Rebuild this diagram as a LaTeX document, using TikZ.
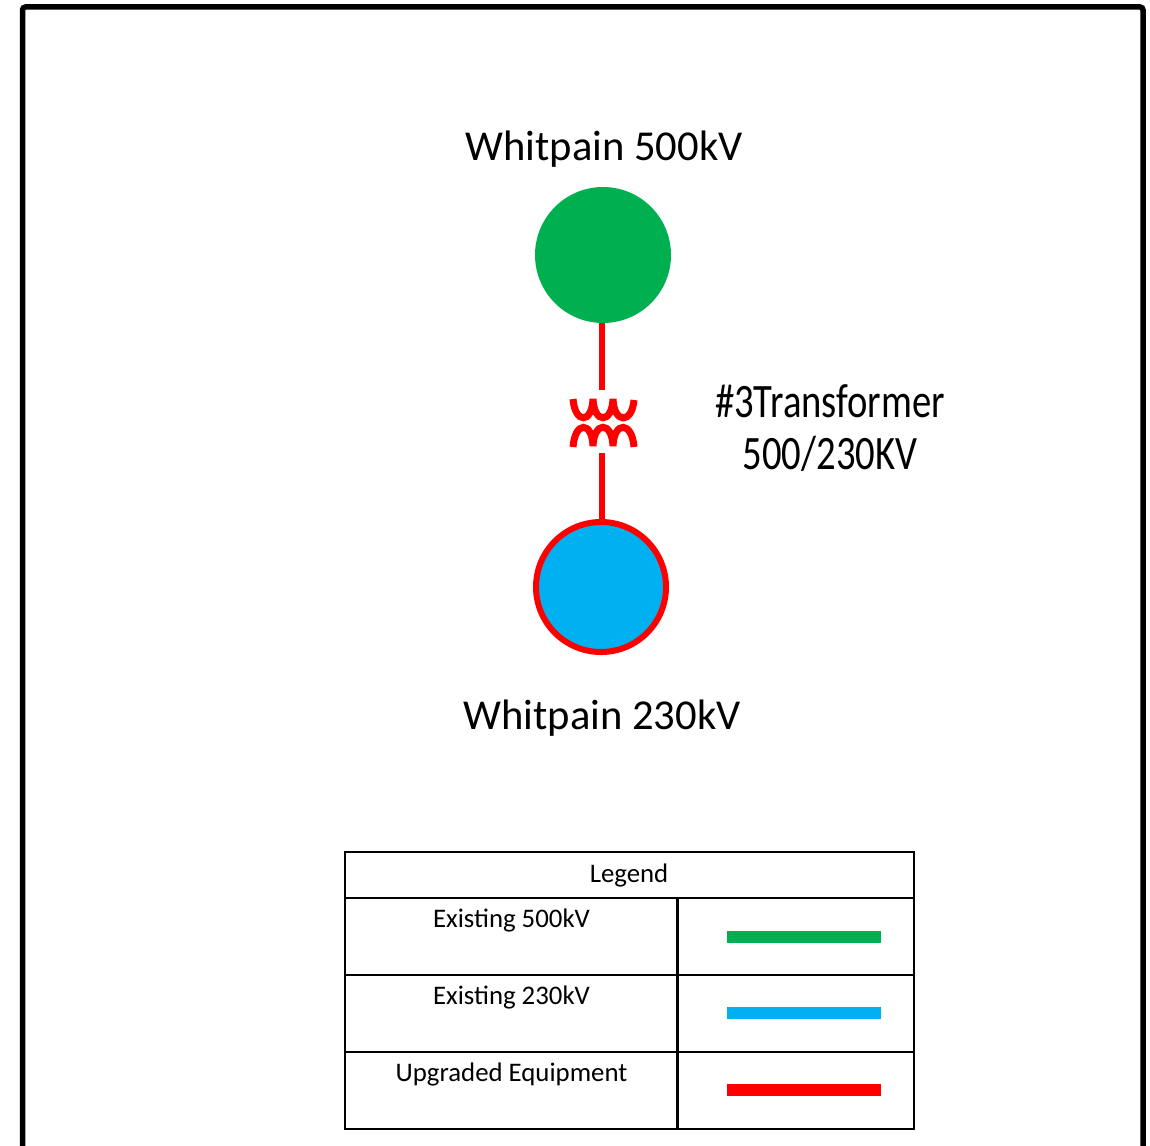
\documentclass[tikz,border=0pt]{standalone}
\usepackage{fontspec}
\setmainfont{Carlito}
\newfontfamily\narrowfont[FakeStretch=0.805]{Carlito}
\definecolor{busgreen}{RGB}{0,176,80}
\definecolor{busblue}{RGB}{0,176,240}
\definecolor{upred}{RGB}{255,0,0}
\tikzset{
  buslabel/.style={inner sep=0pt,font=\fontsize{42.6}{42.6}\selectfont},
  xflabel/.style={inner sep=0pt,align=center,font=\narrowfont\fontsize{48}{52}\selectfont},
  legtext/.style={inner sep=0pt,font=\fontsize{26.8}{26.8}\selectfont},
  legline/.style={draw=black,line width=2.4pt},
  legbar/.style={line width=12pt},
  coil/.style={draw=upred,line width=7pt},
  redline/.style={draw=upred,line width=6pt},
}
\begin{document}
\begin{tikzpicture}[x=1pt,y=-1pt]
\useasboundingbox (0,0) rectangle (1150,1145);
\draw[black,line width=5.5pt,rounded corners=3pt] (22.5,1150) -- (22.5,7) -- (1143,7) -- (1143,1150);
\node[buslabel] (t500) at (604,149) {Whitpain 500kV};
\node[buslabel] (t230) at (602,718) {Whitpain 230kV};
\node[circle,fill=busgreen,inner sep=0pt,minimum size=136pt] (b500) at (603,255) {};
\node[circle,fill=busblue,draw=upred,line width=6pt,inner sep=0pt,minimum size=130pt] (b230) at (601,587) {};
\coordinate (xtop) at (602.3,390);
\coordinate (xbot) at (602.3,453);
\draw[redline] (xtop |- b500.south) -- (xtop);
\draw[redline] (xbot) -- (xbot |- b230.north);
\draw[coil] (573,399) .. controls (575,424) and (592,424) .. (593,399)
  .. controls (594,424) and (612,424) .. (613,399)
  .. controls (614,424) and (632,424) .. (634,400);
\draw[coil] (573,447) .. controls (575,421) and (592,421) .. (593,446)
  .. controls (594,421) and (612,421) .. (613,446)
  .. controls (614,421) and (632,421) .. (634,447);
\node[xflabel] (xf) at (830,428) {\#3Transformer\\500/230KV};
\draw[legline] (345,852) rectangle (914,1129);
\draw[legline] (345,898) -- (914,898);
\draw[legline] (345,975) -- (914,975);
\draw[legline] (345,1052) -- (914,1052);
\draw[legline] (677.5,898) -- (677.5,1129);
\node[legtext] (lt) at (629,875.5) {Legend};
\node[legtext] (l1) at (511.5,920.5) {Existing 500kV};
\node[legtext] (l2) at (511.5,997.5) {Existing 230kV};
\node[legtext] (l3) at (511.5,1074.5) {Upgraded Equipment};
\draw[legbar,busgreen] (727,937) -- (881,937);
\draw[legbar,busblue] (727,1013) -- (881,1013);
\draw[legbar,upred] (727,1090) -- (881,1090);
\end{tikzpicture}
\end{document}
